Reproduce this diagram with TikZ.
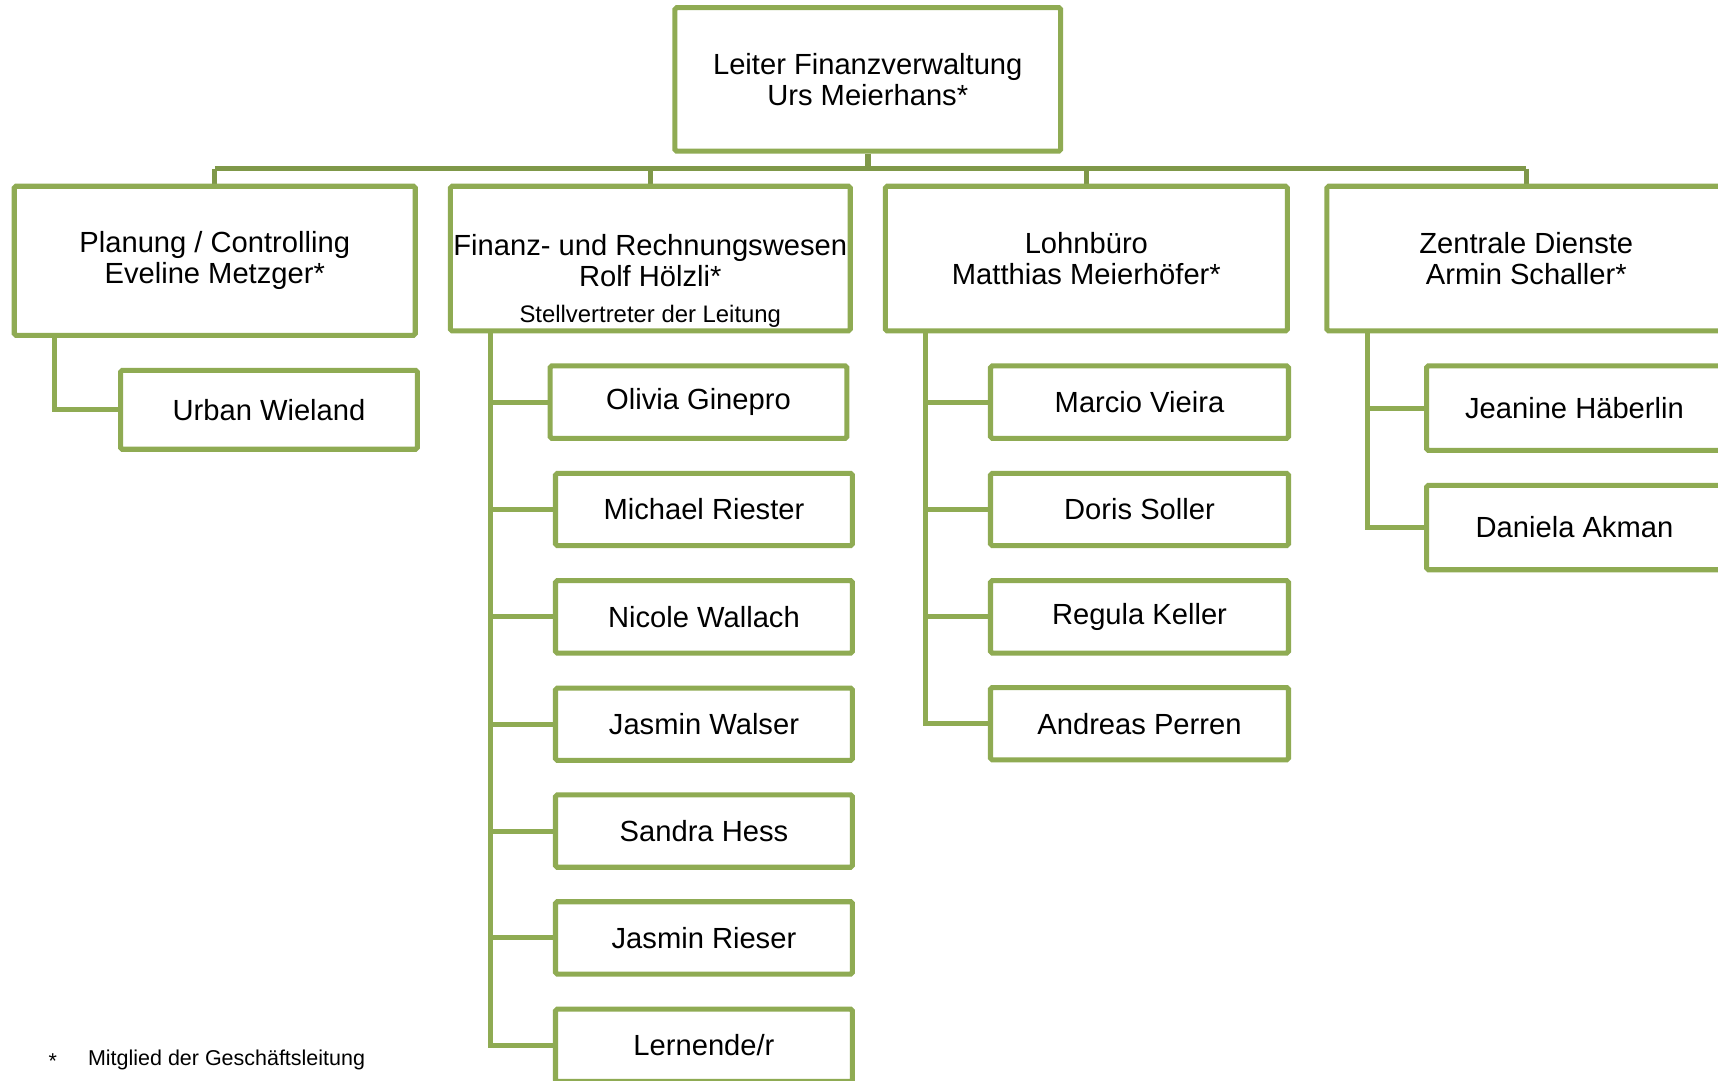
\documentclass[tikz,border=0pt]{standalone}
\usepackage{fontspec}
\setmainfont{Liberation Sans}
\usetikzlibrary{backgrounds}
\definecolor{boxgreen}{RGB}{143,171,83}
\definecolor{busgreen}{RGB}{127,152,73}
\tikzset{
  box/.style={draw=boxgreen, line width=2.3pt, fill=white, inner sep=0pt,
    align=center, font=\fontsize{13.3}{14}\selectfont, rounded corners=0.8pt},
  conn/.style={draw=boxgreen, line width=2.3pt},
  busline/.style={draw=busgreen, line width=2.5pt},
  smalltext/.style={inner sep=0pt, font=\fontsize{10.9}{12}\selectfont},
  foot/.style={inner sep=0pt, anchor=west, font=\fontsize{9.8}{11}\selectfont}
}
\begin{document}
\begin{tikzpicture}[x=0.5pt,y=-0.5pt]
\useasboundingbox (0,0) rectangle (1568,986);
\clip (0,0) rectangle (1568,986);
% top
\node[box, minimum width=176pt, minimum height=65.5pt] (top) at (792,72.5)
  {Leiter Finanzverwaltung\\Urs Meierhans*};
% level 1
\node[box, minimum width=183pt, minimum height=68pt] (plan) at (196,238)
  {\rule{0pt}{0pt}Planung / Controlling\\Eveline Metzger*};
\node[box, minimum width=182.5pt, minimum height=66pt] (fin) at (593.5,236) {};
\node[inner sep=0pt, align=center, font=\fontsize{13.3}{14}\selectfont] (fintext) at (593.5,238)
  {Finanz- und Rechnungswesen\\Rolf Hölzli*};
\node[smalltext] (finsub) at (593.5,289) {Stellvertreter der Leitung};
\node[box, minimum width=183.5pt, minimum height=66pt] (lohn) at (991.5,236)
  {Lohnbüro\\Matthias Meierhöfer*};
\node[box, minimum width=182pt, minimum height=66pt] (zen) at (1393,236)
  {Zentrale Dienste\\Armin Schaller*};
% level 2
\node[box, minimum width=135.5pt, minimum height=36pt] (urban) at (245.5,374) {Urban Wieland};
\node[box, minimum width=135.5pt, minimum height=33pt] (olivia) at (637.5,367) {Olivia Ginepro};
\node[box, minimum width=135.5pt, minimum height=33pt] (michael) at (642.5,465) {Michael Riester};
\node[box, minimum width=135.5pt, minimum height=33pt] (nicole) at (642.5,563) {Nicole Wallach};
\node[box, minimum width=135.5pt, minimum height=33pt] (jwalser) at (642.5,661) {Jasmin Walser};
\node[box, minimum width=135.5pt, minimum height=33pt] (sandra) at (642.5,758.5) {Sandra Hess};
\node[box, minimum width=135.5pt, minimum height=33pt] (jrieser) at (642.5,856) {Jasmin Rieser};
\node[box, minimum width=135.5pt, minimum height=33pt] (lern) at (642.5,954) {Lernende/r};
\node[box, minimum width=136pt, minimum height=33pt] (marcio) at (1040,367) {Marcio Vieira};
\node[box, minimum width=136pt, minimum height=33pt] (doris) at (1040,465) {Doris Soller};
\node[box, minimum width=136pt, minimum height=33pt] (regula) at (1040,563) {Regula Keller};
\node[box, minimum width=136pt, minimum height=33pt] (andreas) at (1040,660.5) {Andreas Perren};
\node[box, minimum width=135pt, minimum height=38.5pt] (jeanine) at (1437,372.5) {Jeanine Häberlin};
\node[box, minimum width=135pt, minimum height=38.5pt] (daniela) at (1437,481.5) {Daniela Akman};
% footnote
\node[foot] (star) at (44,968) {*};
\node[foot] (footnote) at (80,967) {Mitglied der Geschäftsleitung};
% connectors
\coordinate (bus) at (0,154);
\coordinate (psp) at (50,0);
\coordinate (fsp) at (448,0);
\coordinate (lsp) at (845,0);
\coordinate (zsp) at (1248,0);
\begin{scope}[on background layer]
  \draw[busline] (top.south) -- (top.south |- bus);
  \draw[busline] (plan.north |- bus) -- (zen.north |- bus);
  \foreach \n in {plan,fin,lohn,zen} \draw[busline] (\n.north |- bus) -- (\n.north);
  \draw[conn] (psp |- plan.south) |- (urban.west);
  \draw[conn] (fsp |- fin.south) |- (lern.west);
  \foreach \n in {olivia,michael,nicole,jwalser,sandra,jrieser} \draw[conn] (fsp |- \n.west) -- (\n.west);
  \draw[conn] (lsp |- lohn.south) |- (andreas.west);
  \foreach \n in {marcio,doris,regula} \draw[conn] (lsp |- \n.west) -- (\n.west);
  \draw[conn] (zsp |- zen.south) |- (daniela.west);
  \draw[conn] (zsp |- jeanine.west) -- (jeanine.west);
\end{scope}
\end{tikzpicture}
\end{document}
